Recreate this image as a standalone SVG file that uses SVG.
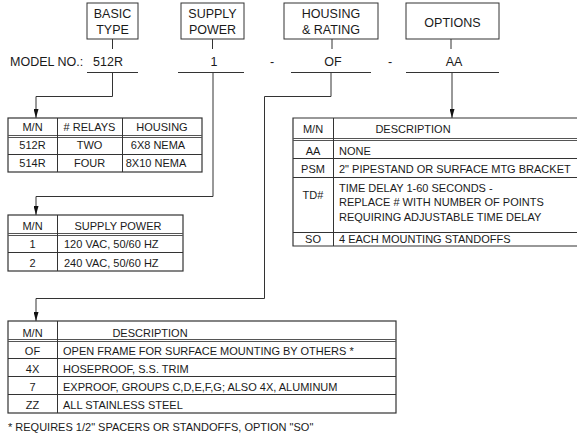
<svg xmlns="http://www.w3.org/2000/svg" width="577" height="436" viewBox="0 0 577 436">
<defs>
<marker id="arr" markerWidth="9" markerHeight="5" refX="9" refY="2.5" orient="auto" markerUnits="userSpaceOnUse" viewBox="0 0 9 5"><path d="M0,0 L9,2.5 L0,5 Z" fill="#111"/></marker>
<style>
text{font-family:"Liberation Sans",Arial,sans-serif;fill:#1a1a1a}
.h{font-size:12.5px}
.t{font-size:11px}
.c{text-anchor:middle}
.box{fill:#fff;stroke:#333;stroke-width:1}
.ln{fill:none;stroke:#333;stroke-width:1}
.tb{fill:none;stroke:#333;stroke-width:1.2}
.dl{stroke:#555;stroke-width:1}
</style>
</defs>
<rect width="577" height="436" fill="#fff"/>

<g id="box-basic">
<rect class="box" x="87" y="3" width="51" height="36"/>
<text class="h c" x="112.5" y="18">BASIC</text>
<text class="h c" x="112.5" y="34">TYPE</text>
</g>
<g id="box-supply">
<rect class="box" x="181" y="3" width="63" height="36"/>
<text class="h c" x="212.5" y="18">SUPPLY</text>
<text class="h c" x="212.5" y="34">POWER</text>
</g>
<g id="box-housing">
<rect class="box" x="284" y="3" width="94" height="36"/>
<text class="h c" x="331" y="18">HOUSING</text>
<text class="h c" x="331" y="34">&amp; RATING</text>
</g>
<g id="box-options">
<rect class="box" x="406" y="3" width="93" height="36"/>
<text class="h c" x="452.5" y="27">OPTIONS</text>
</g>

<g id="model-line">
<text class="h" x="10" y="66">MODEL NO.:</text>
<text class="h c" x="108" y="66">512R</text>
<text class="h c" x="214" y="66">1</text>
<text class="h c" x="272" y="66">-</text>
<text class="h c" x="333" y="66">OF</text>
<text class="h c" x="390" y="66">-</text>
<text class="h c" x="454" y="66">AA</text>
<line class="ln" x1="87" y1="72.5" x2="138" y2="72.5"/>
<line class="ln" x1="178" y1="72.5" x2="244" y2="72.5"/>
<line class="ln" x1="291" y1="72.5" x2="371" y2="72.5"/>
<line class="ln" x1="406" y1="72.5" x2="499" y2="72.5"/>
</g>

<g id="connectors">
<line class="ln" x1="112.5" y1="39" x2="112.5" y2="49"/>
<line class="ln" x1="212.5" y1="39" x2="212.5" y2="49"/>
<line class="ln" x1="332" y1="39" x2="332" y2="49"/>
<line class="ln" x1="451" y1="39" x2="451" y2="49"/>
<polyline class="ln" points="112.5,73 112.5,96.5 36,96.5 36,118" marker-end="url(#arr)"/>
<polyline class="ln" points="213,73 213,196.5 36,196.5 36,215" marker-end="url(#arr)"/>
<polyline class="ln" points="331,73 331,96.5 264.5,96.5 264.5,298.5 36,298.5 36,321" marker-end="url(#arr)"/>
<line class="ln" x1="452" y1="73" x2="452" y2="118" marker-end="url(#arr)"/>
</g>

<g id="table-basic">
<rect class="tb" x="8" y="118" width="194" height="54"/>
<line class="dl" x1="8" y1="135.5" x2="202" y2="135.5"/>
<line class="dl" x1="8" y1="137.5" x2="202" y2="137.5"/>
<line class="ln" x1="8" y1="154.5" x2="202" y2="154.5"/>
<line class="ln" x1="57.5" y1="118" x2="57.5" y2="172"/>
<line class="ln" x1="122.5" y1="118" x2="122.5" y2="172"/>
<text class="t c" x="32.5" y="131">M/N</text>
<text class="t c" x="89.5" y="131"># RELAYS</text>
<text class="t c" x="162" y="131">HOUSING</text>
<text class="t c" x="32.5" y="149">512R</text>
<text class="t c" x="89.5" y="149">TWO</text>
<text class="t c" x="158" y="149">6X8 NEMA</text>
<text class="t c" x="32.5" y="167">514R</text>
<text class="t c" x="89.5" y="167">FOUR</text>
<text class="t c" x="156" y="167">8X10 NEMA</text>
</g>

<g id="table-supply">
<rect class="tb" x="8" y="215" width="175" height="56"/>
<line class="dl" x1="8" y1="233.5" x2="183" y2="233.5"/>
<line class="dl" x1="8" y1="235.5" x2="183" y2="235.5"/>
<line class="ln" x1="8" y1="252.5" x2="183" y2="252.5"/>
<line class="ln" x1="57.5" y1="215" x2="57.5" y2="271"/>
<text class="t c" x="32.5" y="230">M/N</text>
<text class="t c" x="118" y="230">SUPPLY POWER</text>
<text class="t c" x="32.5" y="248">1</text>
<text class="t" x="64" y="248">120 VAC, 50/60 HZ</text>
<text class="t c" x="32.5" y="267">2</text>
<text class="t" x="64" y="267">240 VAC, 50/60 HZ</text>
</g>

<g id="table-options">
<polyline class="tb" points="580,118 293,118 293,246 580,246"/>
<line class="dl" x1="293" y1="138.5" x2="580" y2="138.5"/>
<line class="dl" x1="293" y1="140.5" x2="580" y2="140.5"/>
<line class="ln" x1="293" y1="158.5" x2="580" y2="158.5"/>
<line class="ln" x1="293" y1="177.5" x2="580" y2="177.5"/>
<line class="ln" x1="293" y1="232.5" x2="580" y2="232.5"/>
<line class="ln" x1="333.5" y1="118" x2="333.5" y2="246"/>
<text class="t c" x="313" y="133">M/N</text>
<text class="t c" x="413" y="133">DESCRIPTION</text>
<text class="t c" x="313" y="155">AA</text>
<text class="t" x="339" y="155">NONE</text>
<text class="t c" x="313" y="173">PSM</text>
<text class="t" x="339" y="173">2" PIPESTAND OR SURFACE MTG BRACKET</text>
<text class="t c" x="313" y="199">TD#</text>
<text class="t" x="339" y="192">TIME DELAY 1-60 SECONDS -</text>
<text class="t" x="339" y="206">REPLACE # WITH NUMBER OF POINTS</text>
<text class="t" x="339" y="221">REQUIRING ADJUSTABLE TIME DELAY</text>
<text class="t c" x="313" y="243">SO</text>
<text class="t" x="339" y="243">4 EACH MOUNTING STANDOFFS</text>
</g>

<g id="table-housing">
<rect class="tb" x="8" y="321" width="388" height="92"/>
<line class="dl" x1="8" y1="339.5" x2="396" y2="339.5"/>
<line class="dl" x1="8" y1="341.5" x2="396" y2="341.5"/>
<line class="ln" x1="8" y1="358.5" x2="396" y2="358.5"/>
<line class="ln" x1="8" y1="376.5" x2="396" y2="376.5"/>
<line class="ln" x1="8" y1="394.5" x2="396" y2="394.5"/>
<line class="ln" x1="57.5" y1="321" x2="57.5" y2="413"/>
<text class="t c" x="32.5" y="337">M/N</text>
<text class="t c" x="150" y="337">DESCRIPTION</text>
<text class="t c" x="32.5" y="355">OF</text>
<text class="t" x="63" y="355">OPEN FRAME FOR SURFACE MOUNTING BY OTHERS *</text>
<text class="t c" x="32.5" y="373">4X</text>
<text class="t" x="63" y="373">HOSEPROOF, S.S. TRIM</text>
<text class="t c" x="32.5" y="391">7</text>
<text class="t" x="63" y="391">EXPROOF, GROUPS C,D,E,F,G; ALSO 4X, ALUMINUM</text>
<text class="t c" x="32.5" y="409">ZZ</text>
<text class="t" x="63" y="409">ALL STAINLESS STEEL</text>
</g>

<g id="footnote">
<text class="t" x="8" y="431">* REQUIRES 1/2" SPACERS OR STANDOFFS, OPTION "SO"</text>
</g>
</svg>
